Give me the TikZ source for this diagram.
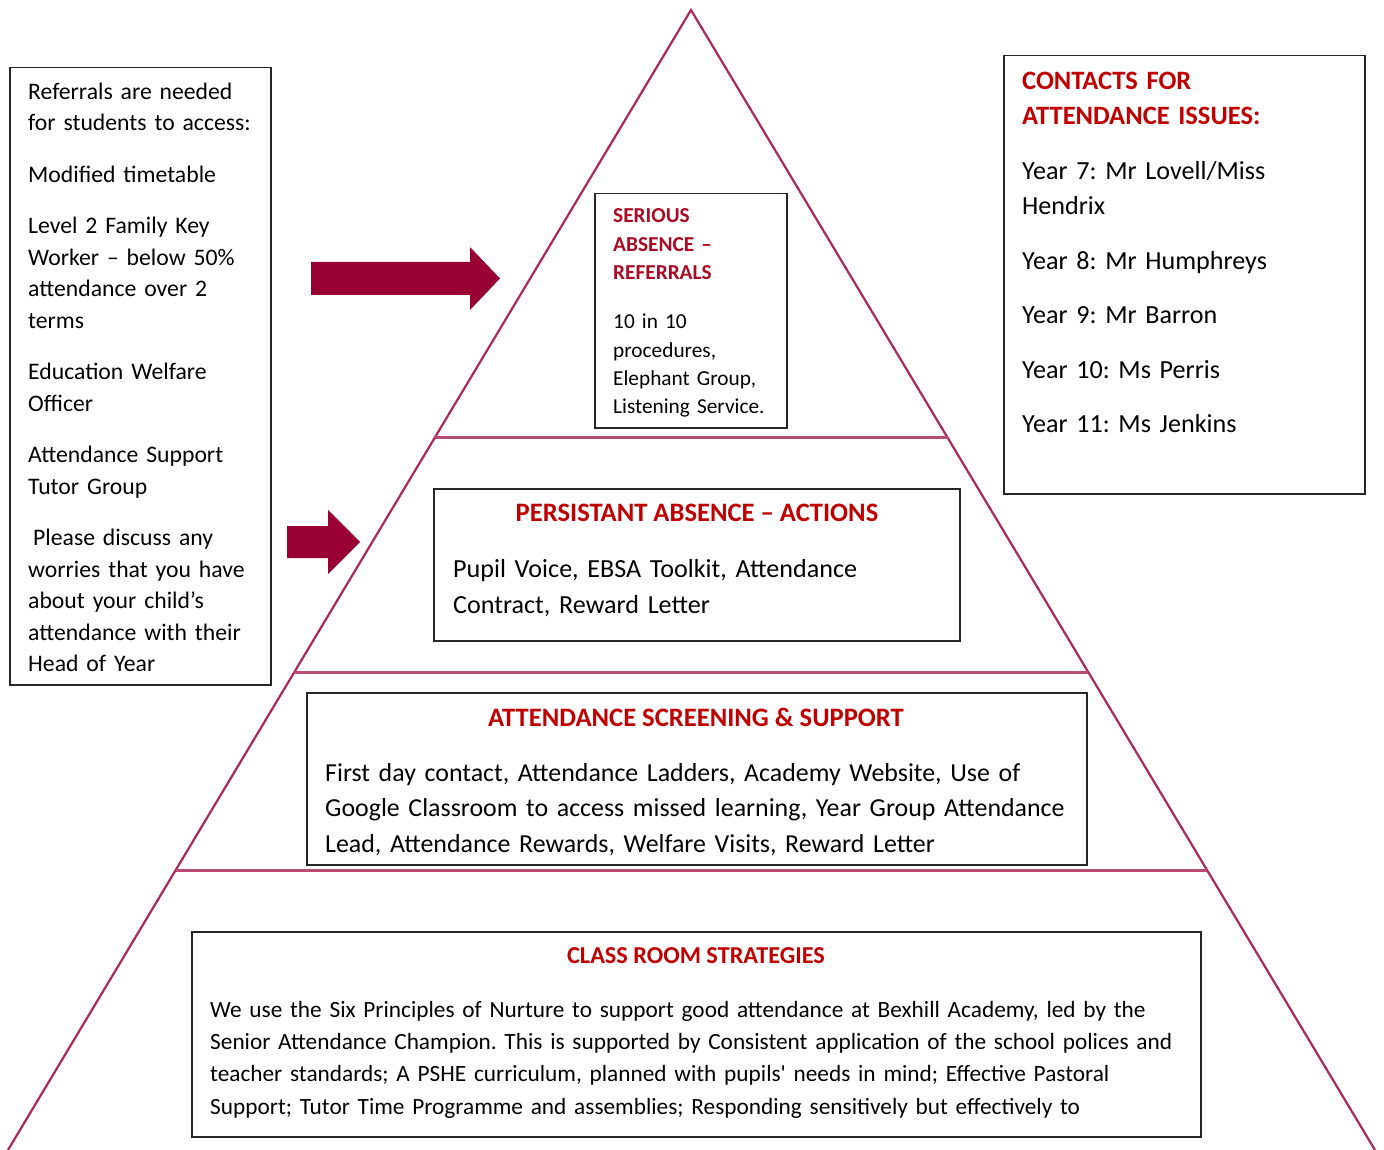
\documentclass[tikz,border=0pt]{standalone}
\usepackage{fontspec}
\setmainfont{Carlito}
\usetikzlibrary{calc}

\definecolor{pyrline}{RGB}{170,40,90}
\definecolor{tierline}{RGB}{185,75,115}
\definecolor{arrowred}{RGB}{153,0,51}
\definecolor{headred}{RGB}{192,0,0}
\definecolor{seriousred}{RGB}{170,10,35}

\newcommand{\bigtext}{\fontsize{26.1}{35.5}\selectfont}
\newcommand{\midtext}{\fontsize{23.7}{31.5}\selectfont}
\newcommand{\smalltext}{\fontsize{21.3}{28.3}\selectfont}

\begin{document}
\frenchspacing
\begin{tikzpicture}[x=1pt,y=-1pt,
    box/.style={draw=black!85,line width=1.5pt,anchor=north west,inner sep=0pt},
    txt/.style={inner sep=0pt,align=left,anchor=base west},
    heading/.style={inner sep=0pt,anchor=base,text=headred,font=\bfseries\fontsize{26.6}{35.5}\selectfont},
    side/.style={draw=pyrline,line width=2.2pt},
    tier/.style={draw=tierline,line width=3pt},
    pointer/.style={fill=arrowred}]

    \useasboundingbox (0,0) rectangle (1384,1150);
    \fill[white] (0,0) rectangle (1384,1150);

    % pyramid
    \coordinate (apex) at (691,10);
    \coordinate (bl) at (8,1150);
    \coordinate (br) at (1375,1150);
    \draw[side] (bl) -- (apex) -- (br);
    \foreach \t in {0.3754,0.5807,0.7544}
        \draw[tier] ($(apex)!\t!(bl)$) -- ($(apex)!\t!(br)$);

    % arrows
    \fill[pointer] (311,262) -- (470,262) -- (470,247) -- (500,278.5) -- (470,310) -- (470,295) -- (311,295) -- cycle;
    \fill[pointer] (287,526) -- (328,526) -- (328,510) -- (360,542) -- (328,574) -- (328,558) -- (287,558) -- cycle;

    % boxes
    \node[box,minimum width=261pt,minimum height=617pt] (refer) at (9,67) {};
    \node[box,minimum width=361pt,minimum height=438pt] (contacts) at (1003,55) {};
    \node[box,minimum width=192pt,minimum height=234pt] (serious) at (594,193) {};
    \node[box,minimum width=526pt,minimum height=152pt] (persist) at (433,488) {};
    \node[box,minimum width=780pt,minimum height=172pt] (screen) at (306,692) {};
    \node[box,minimum width=1009pt,minimum height=205pt] (classroom) at (191,931) {};

    % left box text
    \node[txt,text width=300pt,font=\midtext] (referText) at (28,99.3)
        {Referrals are needed\\for students to access:\\[20pt]
         Modified timetable\\[20pt]
         Level 2 Family Key\\Worker -- below 50\%\\attendance over 2\\terms\\[20pt]
         Education Welfare\\Officer\\[20pt]
         Attendance Support\\Tutor Group\\[20pt]
         \hspace*{5pt}Please discuss any\\worries that you have\\about your child’s\\attendance with their\\Head of Year};

    % contacts
    \node[txt,text width=340pt,font=\bigtext] (contactsText) at (1022,89.3)
        {\textcolor{headred}{\bfseries\fontsize{26.5}{35.5}\selectfont CONTACTS FOR}\\\textcolor{headred}{\bfseries\fontsize{26.5}{35.5}\selectfont ATTENDANCE ISSUES:}\\[19pt]
         Year 7: Mr Lovell/Miss\\Hendrix\\[19pt]
         Year 8: Mr Humphreys\\[19pt]
         Year 9: Mr Barron\\[19pt]
         Year 10: Ms Perris\\[19pt]
         Year 11: Ms Jenkins};

    % serious absence
    \node[txt,text width=200pt,font=\smalltext] (seriousText) at (613,223)
        {\textcolor{seriousred}{\bfseries SERIOUS}\\\textcolor{seriousred}{\bfseries ABSENCE --}\\\textcolor{seriousred}{\bfseries REFERRALS}\\[21pt]
         10 in 10\\procedures,\\Elephant Group,\\Listening Service.};

    % persistant absence
    \node[heading] (persistHead) at (697,521.7) {PERSISTANT ABSENCE -- ACTIONS};
    \node[txt,text width=600pt,font=\bigtext] (persistText) at (453,577.7)
        {Pupil Voice, EBSA Toolkit, Attendance\\Contract, Reward Letter};

    % screening
    \node[heading] (screenHead) at (696,726) {ATTENDANCE SCREENING \& SUPPORT};
    \node[txt,text width=900pt,font=\fontsize{25.9}{35.2}\selectfont] (screenText) at (325,781.7)
        {First day contact, Attendance Ladders, Academy Website, Use of\\
         Google Classroom to access missed learning, Year Group Attendance\\
         Lead, Attendance Rewards, Welfare Visits, Reward Letter};

    % class room
    \node[heading,font=\bfseries\fontsize{24.3}{32}\selectfont] (classHead) at (696,963.3) {CLASS ROOM STRATEGIES};
    \node[txt,text width=1100pt,font=\fontsize{23.3}{32.1}\selectfont] (classText) at (210,1017.7)
        {We use the Six Principles of Nurture to support good attendance at Bexhill Academy, led by the\\
         Senior Attendance Champion. This is supported by Consistent application of the school polices and\\
         teacher standards; A PSHE curriculum, planned with pupils\textquotesingle\ needs in mind; Effective Pastoral\\
         Support; Tutor Time Programme and assemblies; Responding sensitively but effectively to};
\end{tikzpicture}
\end{document}
